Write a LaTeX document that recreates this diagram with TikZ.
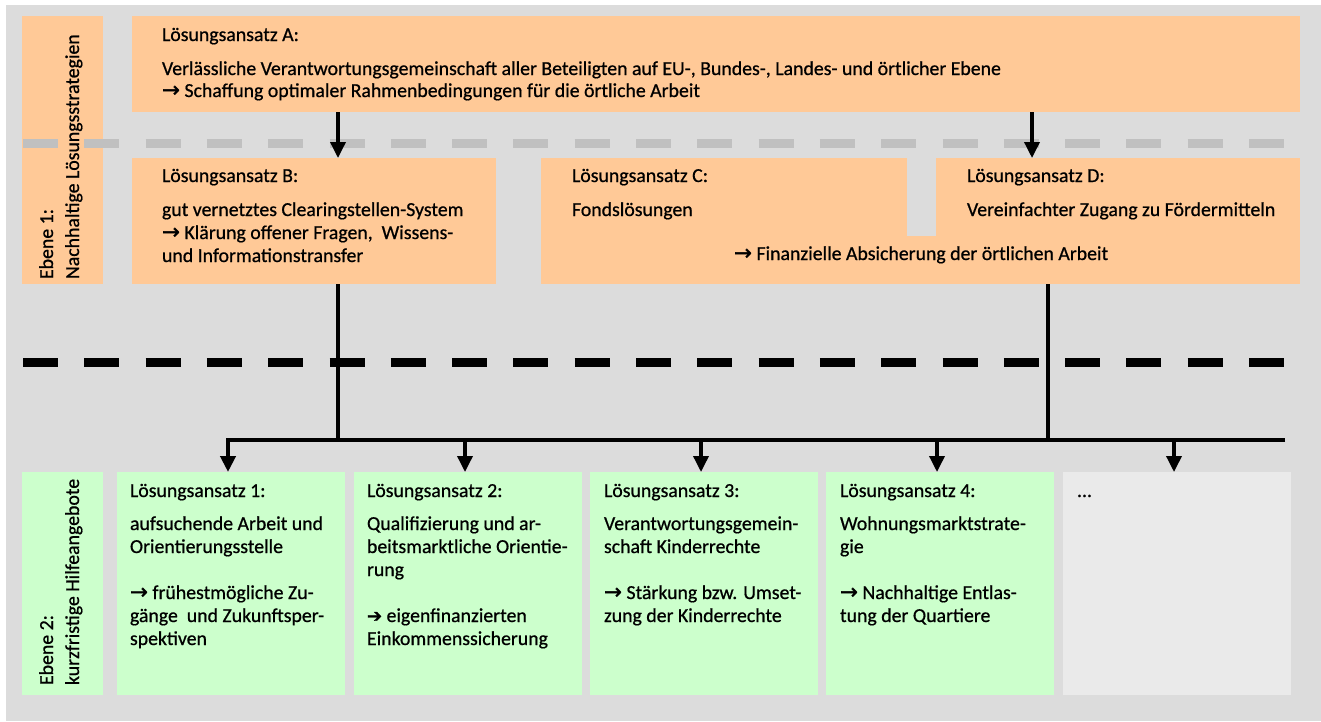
\documentclass[tikz,border=0pt]{standalone}
\usepackage{fontspec}
\setmainfont{Carlito}[FakeBold=0.7]
\newfontfamily\arrowfont{DejaVu Sans}[FakeBold=1.2]
\usetikzlibrary{arrows.meta}
\definecolor{bgc}{HTML}{DCDCDC}
\definecolor{orng}{HTML}{FFC997}
\definecolor{grn}{HTML}{CCFFCC}
\definecolor{lgray}{HTML}{EAEAEA}
\definecolor{dashgray}{HTML}{C0C0C0}
\newcommand\myarr{{\arrowfont\fontsize{21.5}{19}\selectfont →}}
\newcommand\myarrb{{\arrowfont\fontsize{18}{18}\selectfont ➔}}
\newcommand\fst{\rule{0pt}{17pt}}
\tikzset{
  panel/.style={rectangle, inner sep=0pt, outer sep=0pt, anchor=north west, draw=none},
  orangebox/.style={panel, fill=orng},
  greenbox/.style={panel, fill=grn},
  graybox/.style={panel, fill=lgray},
  txt/.style={inner sep=0pt, outer sep=0pt, anchor=north west, align=left, font=\fontsize{19.8}{23}\selectfont},
  conn/.style={line width=3.5pt, black},
  tip/.style={-{Triangle[width=15pt,length=16pt]}},
  sep/.style={line width=9pt, dash pattern=on 35pt off 26.3pt}
}
\begin{document}
\begin{tikzpicture}[x=1pt,y=-1pt]
\useasboundingbox (0,0) rectangle (1321,721);
\fill[white] (0,0) rectangle (1321,721);
\fill[bgc] (6,5) rectangle (1321,721);

% level 1
\node[orangebox, minimum width=81pt, minimum height=268pt] (L1) at (22,16) {};
\node[orangebox, minimum width=1168pt, minimum height=96pt] (A) at (132,16) {};
\node[orangebox, minimum width=364pt, minimum height=126pt] (B) at (132,158) {};
\node[orangebox, minimum width=366pt, minimum height=126pt] (C) at (541,158) {};
\node[orangebox, minimum width=364pt, minimum height=126pt] (D) at (936,158) {};
\node[orangebox, minimum width=31pt, minimum height=48pt] (CD) at (906,236) {};

% level 2
\node[greenbox, minimum width=81pt, minimum height=223pt] (L2) at (22,472) {};
\node[greenbox, minimum width=228pt, minimum height=223pt] (b1) at (117,472) {};
\node[greenbox, minimum width=228pt, minimum height=223pt] (b2) at (354,472) {};
\node[greenbox, minimum width=228pt, minimum height=223pt] (b3) at (590,472) {};
\node[greenbox, minimum width=228pt, minimum height=223pt] (b4) at (826,472) {};
\node[graybox, minimum width=228pt, minimum height=223pt] (b5) at (1063,472) {};

% separators
\draw[sep, dashgray] (23,143) -- (1284,143);
\draw[sep, black] (23,362) -- (1284,362);

% junction coordinates
\coordinate (xB) at (338,440);
\coordinate (aD) at (1032,135);
\coordinate (xD) at (1048,440);
\coordinate (busL) at (228,440);
\coordinate (busR) at (1285,440);

% connectors
\draw[conn, tip] (A.south -| xB) -- (B.north -| xB);
\draw[conn, tip] (A.south -| aD) -- (D.north -| aD);
\draw[conn] (B.south -| xB) -- (xB);
\draw[conn] (D.south -| xD) -- (xD);
\draw[conn, line width=4pt, tip] (busR) -- (busL) -- (b1.north -| busL);
\draw[conn, tip] ([xshift=-3pt]b2.north |- busL) -- ([xshift=-3pt]b2.north);
\draw[conn, tip] ([xshift=-3pt]b3.north |- busL) -- ([xshift=-3pt]b3.north);
\draw[conn, tip] ([xshift=-3pt]b4.north |- busL) -- ([xshift=-3pt]b4.north);
\draw[conn, tip] ([xshift=-3pt]b5.north |- busL) -- ([xshift=-3pt]b5.north);

% texts
\node[txt, rotate=90] (tL1) at (36,279) {\fst Ebene 1:\\[3pt] Nachhaltige Lösungsstrategien};
\node[txt, rotate=90] (tL2) at (36,685) {\fst Ebene 2:\\[3pt] kurzfristige Hilfeangebote};

\node[txt] (tA) at (162,24) {\fst Lösungsansatz A:\\[11pt]
Verlässliche Verantwortungsgemeinschaft aller Beteiligten auf EU-, Bundes-, Landes- und örtlicher Ebene\\[-1pt]
\myarr\ Schaffung optimaler Rahmenbedingungen für die örtliche Arbeit};
\node[txt] (tB) at (162,165) {\fst Lösungsansatz B:\\[11pt]
gut vernetztes Clearingstellen-System\\
\myarr\ Klärung offener Fragen, \ Wissens-\\
und Informationstransfer};
\node[txt] (tC) at (572,165) {\fst Lösungsansatz C:\\[11pt] Fondslösungen};
\node[txt] (tD) at (967,165) {\fst Lösungsansatz D:\\[11pt] Vereinfachter Zugang zu Fördermitteln};
\node[txt] (tCD) at (734,243) {\fst\myarr\ Finanzielle Absicherung der örtlichen Arbeit};

\node[txt] (t1) at (130,480) {\fst Lösungsansatz 1:\\[10pt]
aufsuchende Arbeit und\\ Orientierungsstelle\\ \mbox{}\\
\myarr\ frühestmögliche Zu-\\ gänge \ und Zukunftsper-\\ spektiven};
\node[txt] (t2) at (367,480) {\fst Lösungsansatz 2:\\[10pt]
Qualifizierung und ar-\\ beitsmarktliche Orientie-\\ rung\\ \mbox{}\\
\myarrb\ eigenfinanzierten\\ Einkommenssicherung};
\node[txt] (t3) at (604,480) {\fst Lösungsansatz 3:\\[10pt]
Verantwortungsgemein-\\ schaft Kinderrechte\\ \mbox{}\\
\myarr\ Stärkung bzw. Umset-\\ zung der Kinderrechte};
\node[txt] (t4) at (840,480) {\fst Lösungsansatz 4:\\[10pt]
Wohnungsmarktstrate-\\ gie\\ \mbox{}\\
\myarr\ Nachhaltige Entlas-\\ tung der Quartiere};
\node[txt] (t5) at (1077,480) {\fst ...};
\end{tikzpicture}
\end{document}
